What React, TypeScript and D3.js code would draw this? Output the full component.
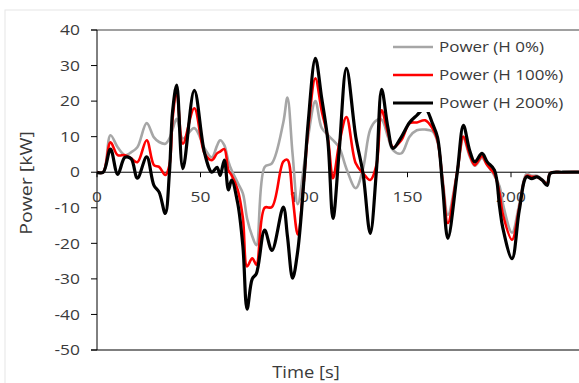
import React, { useEffect } from "react";
import * as d3 from "d3";

const times = [0, 3, 6.5, 10, 13.5, 16.5, 19.5, 24, 27.5, 30, 33, 35, 36.5, 38.5, 41.5, 47, 52, 55.5, 58, 59.5, 61.5, 63.5, 65, 68, 70.5, 72.5, 75, 77, 81, 84.5, 90, 92, 94.5, 97, 100, 102, 105.5, 108.5, 111.5, 114, 117, 120.5, 125, 128.5, 132, 135, 137.5, 140.5, 143, 147, 151, 154.5, 158.5, 162, 164.5, 167, 169.5, 174, 177, 180, 182.5, 186, 188.5, 192, 194.5, 196, 200.5, 204, 207.5, 210, 212.5, 215, 217.5, 219, 225, 240];

const powerH0 = [0, 0, 10.4, 7, 4.8, 5.6, 7, 13.8, 9.8, 8.5, 8, 9.5, 12, 15, 9.5, 12.4, 6.7, 4.2, 7.5, 9, 7.6, 3, 0.6, -3, -6, -13, -18, -20.5, 1.5, 2.5, 14, 21, 5, -9, 2, 10, 20, 12.5, 10.5, 9, 7, 1, -4.5, 1, 12, 14.6, 14.8, 10, 6.2, 5.3, 10, 11.8, 12, 11.5, 8.5, -2, -12, 0, 9.5, 4.5, 1.8, 4, 2, -1, -4, -8.7, -17, -9, -0.5, -1, -1, -2, -3, -0.3, 0, 0];

const powerH100 = [0, 0, 8.4, 4.8, 4.8, 3.9, 2.8, 9, 2, 1.5, -0.8, 2, 15, 22.5, 8, 18, 5.3, 3.4, 5.3, 5.8, 6.5, 0.5, -0.8, -5, -13, -26.5, -24.2, -26, -10, -9.8, 3, 3.5, -7, -17.5, -2, 12, 26.4, 17.4, 9.8, -1.7, 8, 15.5, 2.5, -0.3, -2.2, 2, 17.4, 11.2, 7, 9, 13.8, 14, 14.6, 12.4, 9, -3, -14.3, 0, 10, 5, 2, 4.5, 2, -0.5, -6, -11.6, -19, -10, -1, -1.3, -1.3, -2.2, -3.2, -0.3, 0, 0];

const powerH200 = [0, 0, 6.5, -0.6, 4.2, 3.8, -1.7, 4.3, -3.7, -5.6, -11.6, 0, 17, 24.5, 1, 23, 5.3, 0, 1.4, -0.9, 3.4, -5, -2.2, -8.8, -21, -38.5, -30, -28.5, -16.3, -22, -9.8, -18, -29.8, -22, -2, 13.8, 32, 21, 9, -13, 6, 29.2, 10, -0.3, -17.2, 0.6, 23.3, 12.7, 6.7, 9.9, 14, 16, 18, 13.8, 9.8, -4.2, -18.6, -0.3, 13.2, 6.2, 2.9, 5.3, 2.9, 0.6, -9.8, -15.5, -24.3, -10.7, -1.3, -1.8, -1.3, -2.2, -3.7, -0.3, 0, 0];

const seriesNames = ["Power (H 0%)", "Power (H 100%)", "Power (H 200%)"];
const seriesColors = ["#a6a6a6", "#ff0000", "#000000"];
const xTicks = [0, 50, 100, 150, 200];
const yTicks = [40, 30, 20, 10, 0, -10, -20, -30, -40, -50];

export default function App() {
  useEffect(() => {
    document.body.style.margin = "0";
  }, []);

  const W = 579, H = 383;
  const left = 97, top = 30, bottom = 350;
  const x = d3.scaleLinear().domain([0, 240]).range([left, left + 240 * 2.07]);
  const y = d3.scaleLinear().domain([-50, 40]).range([bottom, top]);
  const line = d3
    .line<number>()
    .x((_, i) => x(times[i]))
    .y((d) => y(d))
    .curve(d3.curveCatmullRom.alpha(0.5));
  const data = [powerH0, powerH100, powerH200];
  const widths = [2.6, 2.6, 3.2];
  const font = "'Open Sans', sans-serif";
  const textColor = "#3a3a3a";

  const T = (props: {
    x: number;
    y: number;
    sx?: number;
    rotate?: number;
    size: number;
    anchor?: string;
    dy?: string;
    children: React.ReactNode;
  }) => (
    <text
      transform={`translate(${props.x},${props.y}) rotate(${props.rotate || 0}) scale(${props.sx || 1.18},1)`}
      textAnchor={props.anchor || "start"}
      dy={props.dy}
      fontFamily={font}
      fontSize={props.size}
      fill={textColor}
    >
      {props.children}
    </text>
  );

  return (
    <svg width={W} height={H} style={{ display: "block", background: "#fff" }}>
      <rect x={5} y={10} width={580} height={380} fill="none" stroke="#e6e6e6" />
      <defs>
        <clipPath id="plot">
          <rect x={left} y={0} width={W - left} height={bottom} />
        </clipPath>
      </defs>
      <line x1={left - 6} x2={W} y1={top} y2={top} stroke="#808080" strokeWidth={1.5} />
      <line x1={left} x2={left} y1={top} y2={bottom} stroke="#000" strokeWidth={1} />
      {yTicks.map((t) => (
        <g key={t}>
          <line x1={left - 6} x2={left} y1={y(t)} y2={y(t)} stroke="#000" />
          <T x={80} y={y(t)} dy="0.36em" anchor="end" size={14.5} sx={1.2}>
            {t}
          </T>
        </g>
      ))}
      <line x1={left - 6} x2={W} y1={bottom} y2={bottom} stroke="#000" strokeWidth={1.2} />
      <line x1={left} x2={W} y1={y(0)} y2={y(0)} stroke="#000" strokeWidth={1} />
      {xTicks.map((t) => (
        <g key={t}>
          <line x1={x(t)} x2={x(t)} y1={y(0)} y2={y(0) + 5} stroke="#000" />
          <T x={x(t)} y={y(0) + 30} anchor="middle" size={14.5} sx={1.2}>
            {t}
          </T>
        </g>
      ))}
      <g clipPath="url(#plot)">
        {data.map((d, i) => (
          <path
            key={i}
            d={line(d) || ""}
            fill="none"
            stroke={seriesColors[i]}
            strokeWidth={widths[i]}
            strokeLinejoin="round"
          />
        ))}
      </g>
      {seriesNames.map((n, i) => (
        <g key={n}>
          <rect x={392} y={38 + i * 28} width={180} height={18} fill="#fff" />
          <line
            x1={393}
            x2={433}
            y1={47 + i * 28}
            y2={47 + i * 28}
            stroke={seriesColors[i]}
            strokeWidth={widths[i]}
          />
          <T x={439} y={47 + i * 28} dy="0.36em" size={14.5} sx={1.17}>
            {n}
          </T>
        </g>
      ))}
      <T x={32} y={183} rotate={-90} anchor="middle" size={17} sx={1.15}>
        Power [kW]
      </T>
      <T x={306} y={378} anchor="middle" size={16} sx={1.15}>
        Time [s]
      </T>
    </svg>
  );
}
